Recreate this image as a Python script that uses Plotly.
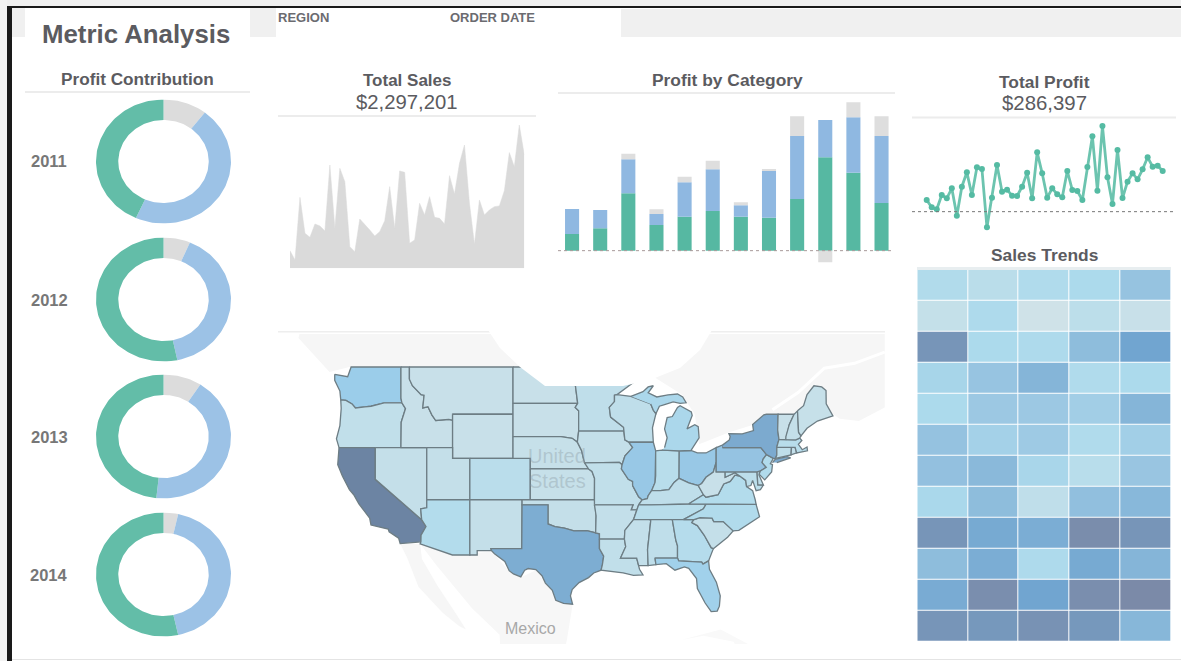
import math
import numpy as np
import plotly.graph_objects as go
from plotly.colors import sample_colorscale

W, H = 1181, 661

# ---------- data ----------
years = ["2011", "2012", "2013", "2014"]
segments = ["Furniture", "Office Supplies", "Technology"]
share_2011 = [10.5, 46.2, 43.3]
share_2012 = [6.4, 40.3, 53.3]
share_2013 = [9.2, 42.5, 48.3]
share_2014 = [3.5, 43.0, 53.5]

sales_months = list(range(48))
monthly_sales = [14800, 7000, 59600, 29400, 26000, 37200, 35600, 31400, 86800, 33600, 84000, 72800,
                 18200, 14000, 41400, 37200, 32200, 27200, 30800, 40000, 68600, 33600, 81800, 80600,
                 21000, 23800, 54600, 44800, 60200, 42800, 42000, 37200, 77800, 62400, 88200, 103600,
                 54600, 20200, 57400, 44800, 49000, 51800, 52400, 65200, 97200, 85400, 120400, 95200]
monthly_profit = [2310, 858, 462, 3300, 2640, 4620, -792, 4950, 7788, 3300, 8778, 8448,
                  -3102, 2772, 9240, 3960, 4356, 3168, 3102, 4950, 7722, 2640, 11748, 7590,
                  2772, 4620, 3432, 2838, 8052, 4290, 4092, 2310, 8844, 14916, 4158, 16962,
                  6798, 1518, 12210, 2706, 5940, 7590, 6402, 8382, 10758, 8910, 9108, 8052]

bar_cats = list(range(12))
profit_green = [5000, 6700, 17200, 7700, 10200, 11900, 10200, 9900, 15500, 28000, 23400, 14300]
profit_blue = [7500, 5500, 10200, 3300, 10300, 12500, 3400, 14200, 18900, 11200, 16600, 20100]
profit_gray = [0, 0, 1700, 1400, 1700, 2600, 900, 400, 5900, -3500, 4500, 5900]

trend_z = [
    [.17, .12, .18, .20, .45],
    [.06, .19, .00, .11, .04],
    [.92, .20, .19, .52, .80],
    [.26, .44, .60, .18, .20],
    [.20, .40, .40, .33, .60],
    [.46, .30, .38, .18, .32],
    [.48, .56, .24, .13, .43],
    [.22, .52, .09, .50, .57],
    [.92, .74, .70, .98, .92],
    [.52, .70, .19, .74, .60],
    [.72, .97, .80, .97, 1.0],
    [.92, .90, .94, .90, .58],
]

state_sales = {
    "WA": .30, "OR": .07, "CA": 1.0, "NV": .05, "ID": .03, "MT": .03, "WY": .03, "UT": .05, "CO": .11,
    "AZ": .15, "NM": .05, "ND": .03, "SD": .03, "NE": .04, "KS": .04, "OK": .05, "TX": .72, "MN": .08,
    "IA": .05, "MO": .07, "AR": .06, "LA": .07, "WI": .08, "IL": .36, "IN": .12, "OH": .36, "MI": .20,
    "KY": .08, "TN": .12, "MS": .06, "AL": .08, "GA": .14, "FL": .26, "SC": .05, "NC": .16, "VA": .15,
    "WV": .03, "MD": .10, "DE": .08, "PA": .42, "NJ": .16, "NY": .74, "CT": .08, "RI": .06, "MA": .12,
    "VT": .03, "NH": .05, "ME": .04,
}

state_outlines = {
    "WA": [(-124.7,48.4),(-123.2,48.2),(-122.8,49),(-117.03,49),(-117.03,46.4),(-116.92,46),(-118.98,46),(-119.3,45.93),(-120.5,45.7),(-121.2,45.65),(-122.3,45.55),(-122.7,45.9),(-123.4,46.2),(-124,46.25),(-124.1,47),(-124.7,47.9)],
    "OR": [(-124,46.25),(-123.4,46.2),(-122.7,45.9),(-122.3,45.55),(-121.2,45.65),(-120.5,45.7),(-119.3,45.93),(-118.98,46),(-116.92,46),(-116.5,45.5),(-117,44.3),(-117.03,42),(-124.2,42),(-124.5,42.8),(-124.1,44),(-123.95,45.5)],
    "CA": [(-124.2,42),(-120,42),(-120,39),(-114.63,35),(-114.13,34.3),(-114.7,33.4),(-114.72,32.72),(-117.12,32.53),(-117.3,33.1),(-118.4,33.75),(-118.5,34.03),(-120.5,34.45),(-120.65,35.15),(-121.9,36.6),(-122.5,37.5),(-123,38),(-123.8,39.3),(-124.35,40.4)],
    "NV": [(-120,42),(-114.04,42),(-114.04,36.2),(-114.74,36.1),(-114.63,35),(-120,39)],
    "ID": [(-117.03,49),(-116.05,49),(-116.05,48),(-115.7,47.45),(-114.7,46.7),(-114.35,46.65),(-114.5,45.55),(-113.9,45.65),(-113.45,44.95),(-113,44.45),(-111.5,44.55),(-111.05,44.48),(-111.05,42),(-117.03,42),(-117,44.3),(-116.5,45.5),(-116.92,46),(-117.03,46.4)],
    "MT": [(-116.05,49),(-104.05,49),(-104.05,45),(-111.05,45),(-111.05,44.48),(-111.5,44.55),(-113,44.45),(-113.45,44.95),(-113.9,45.65),(-114.5,45.55),(-114.35,46.65),(-114.7,46.7),(-115.7,47.45),(-116.05,48)],
    "WY": [(-111.05,45),(-104.05,45),(-104.05,41),(-111.05,41)],
    "UT": [(-114.04,42),(-111.05,42),(-111.05,41),(-109.05,41),(-109.05,37),(-114.04,37)],
    "CO": [(-109.05,41),(-102.05,41),(-102.05,37),(-109.05,37)],
    "AZ": [(-114.04,37),(-109.05,37),(-109.05,31.33),(-111.07,31.33),(-114.81,32.5),(-114.72,32.72),(-114.7,33.4),(-114.13,34.3),(-114.63,35),(-114.74,36.1),(-114.04,36.2)],
    "NM": [(-109.05,37),(-103,37),(-103.04,32),(-106.62,32),(-106.53,31.78),(-108.2,31.78),(-108.2,31.33),(-109.05,31.33)],
    "ND": [(-104.05,49),(-97.23,49),(-96.85,47.6),(-96.56,45.94),(-104.05,45.94)],
    "SD": [(-104.05,45.94),(-96.56,45.94),(-96.85,45.6),(-96.45,45.3),(-96.45,43.5),(-96.6,42.5),(-97.2,42.85),(-98.5,43),(-104.05,43)],
    "NE": [(-104.05,43),(-98.5,43),(-97.2,42.85),(-96.6,42.5),(-96.1,41.7),(-95.9,41),(-95.31,40),(-102.05,40),(-102.05,41),(-104.05,41)],
    "KS": [(-102.05,40),(-95.31,40),(-94.9,39.75),(-94.61,39.1),(-94.62,37),(-102.05,37)],
    "OK": [(-103,37),(-94.62,37),(-94.43,35.4),(-94.48,33.64),(-95.5,33.88),(-97,33.85),(-98.1,34.13),(-99.2,34.3),(-100,34.56),(-100,36.5),(-103,36.5)],
    "TX": [(-106.62,32),(-103.04,32),(-103,36.5),(-100,36.5),(-100,34.56),(-99.2,34.3),(-98.1,34.13),(-97,33.85),(-95.5,33.88),(-94.48,33.64),(-94.04,33.55),(-94.04,32),(-93.55,31.2),(-93.7,30.3),(-93.85,29.7),(-94.7,29.4),(-95.3,28.9),(-96.4,28.35),(-97.2,27.6),(-97.4,26.9),(-97.15,25.96),(-98.2,26.05),(-99.1,26.4),(-99.5,27.5),(-100.3,28.3),(-100.7,29.1),(-101.4,29.77),(-102.3,29.88),(-102.7,29.7),(-103.15,28.98),(-104,29.3),(-104.5,29.65),(-105,30.65),(-106.2,31.47),(-106.53,31.78)],
    "MN": [(-97.23,49),(-95.15,49),(-95.15,49.38),(-94.8,49.3),(-94.6,48.7),(-93,48.6),(-91.4,48.05),(-89.6,48),(-92,46.7),(-92.3,46.65),(-92.3,46.1),(-92.9,45.6),(-92.75,44.75),(-91.25,43.85),(-91.22,43.5),(-96.45,43.5),(-96.45,45.3),(-96.85,45.6),(-96.56,45.94),(-96.85,47.6)],
    "IA": [(-96.45,43.5),(-91.22,43.5),(-91.1,42.7),(-90.64,42.5),(-90.2,42),(-91.1,41.2),(-91.42,40.4),(-91.73,40.61),(-95.77,40.58),(-95.9,41),(-96.1,41.7),(-96.6,42.5)],
    "MO": [(-95.77,40.58),(-91.73,40.61),(-91.42,40.4),(-91.5,40),(-90.7,39),(-90.2,38.8),(-90.2,38.4),(-89.5,37.3),(-89.1,37),(-89.5,36.5),(-89.7,36),(-90.37,36),(-90.15,36.5),(-94.62,36.5),(-94.62,37),(-94.61,39.1),(-94.9,39.75),(-95.31,40)],
    "AR": [(-94.62,36.5),(-90.15,36.5),(-90.37,36),(-89.7,36),(-90.1,35),(-91.1,33.9),(-91.15,33),(-94.04,33),(-94.04,33.55),(-94.48,33.64),(-94.43,35.4)],
    "LA": [(-94.04,33),(-91.15,33),(-91,32.2),(-91.6,31),(-89.73,31),(-89.5,30.2),(-89.4,29.8),(-89,29.2),(-90.1,29.15),(-91.3,29.4),(-92.3,29.55),(-93.85,29.7),(-93.7,30.3),(-93.55,31.2),(-94.04,32)],
    "WI": [(-92,46.7),(-90.4,46.55),(-88.1,45.9),(-87.8,45.35),(-87.5,45.05),(-87.9,43.8),(-87.8,42.49),(-90.64,42.5),(-91.1,42.7),(-91.22,43.5),(-91.25,43.85),(-92.75,44.75),(-92.9,45.6),(-92.3,46.1),(-92.3,46.65)],
    "IL": [(-90.64,42.5),(-87.8,42.49),(-87.53,41.7),(-87.53,39.35),(-87.6,38.7),(-88,37.9),(-88.4,37.4),(-88.5,37.1),(-89.1,37),(-89.5,37.3),(-90.2,38.4),(-90.2,38.8),(-90.7,39),(-91.5,40),(-91.42,40.4),(-91.1,41.2),(-90.2,42)],
    "IN": [(-87.53,41.7),(-86.8,41.76),(-84.8,41.7),(-84.82,39.1),(-85.4,38.7),(-86,38),(-87,37.9),(-88,37.9),(-87.6,38.7),(-87.53,39.35)],
    "OH": [(-84.8,41.7),(-83.45,41.73),(-82.7,41.5),(-81.7,41.5),(-80.52,42),(-80.52,40.64),(-80.85,39.7),(-81.7,39.2),(-82.2,38.6),(-82.6,38.4),(-83.7,38.65),(-84.82,39.1)],
    "MI": [(-86.8,41.76),(-84.8,41.7),(-83.45,41.73),(-83.1,42.2),(-82.5,42.9),(-82.6,43.9),(-83,44.07),(-83.9,43.7),(-83.3,44.9),(-83.4,45.2),(-84.7,45.75),(-85,45.6),(-85.6,44.8),(-86.2,44.7),(-86.5,43.7),(-86.2,42.9),(-86.5,42),None,
           (-90.4,46.55),(-89,46.95),(-88.4,47.35),(-87.8,47.45),(-88.4,46.85),(-87.4,46.5),(-86.1,46.67),(-85,46.75),(-84.4,46.5),(-84,46),(-84.7,45.95),(-85.5,46.08),(-86.5,45.85),(-87.1,45.7),(-87.5,45.05),(-87.8,45.35),(-88.1,45.9)],
    "KY": [(-89.1,37),(-88.5,37.1),(-88.4,37.4),(-88,37.9),(-87,37.9),(-86,38),(-85.4,38.7),(-84.82,39.1),(-83.7,38.65),(-82.6,38.4),(-82,37.5),(-83.68,36.6),(-88.05,36.5),(-89.5,36.5)],
    "TN": [(-90.1,35),(-89.7,36),(-89.5,36.5),(-88.05,36.5),(-83.68,36.6),(-81.68,36.59),(-82,36.1),(-84.32,35),(-85.6,35),(-88.2,35)],
    "MS": [(-91.15,33),(-91.1,33.9),(-90.1,35),(-88.2,35),(-88.1,34.9),(-88.47,31.9),(-88.4,30.2),(-89.5,30.2),(-89.73,31),(-91.6,31),(-91,32.2)],
    "AL": [(-88.2,35),(-85.6,35),(-85.2,32.9),(-85,32.3),(-85,31),(-87.6,31),(-87.5,30.3),(-88.4,30.2),(-88.47,31.9),(-88.1,34.9)],
    "GA": [(-85.6,35),(-83.1,35),(-83.35,34.7),(-82.7,34.4),(-81.9,33.4),(-81.1,32.1),(-80.85,32),(-81.4,30.7),(-82.05,30.35),(-82.2,30.57),(-84.86,30.7),(-85,31),(-85,32.3),(-85.2,32.9)],
    "FL": [(-87.6,31),(-85,31),(-84.86,30.7),(-82.2,30.57),(-82.05,30.35),(-81.4,30.7),(-81.3,29.8),(-80.5,28.4),(-80.05,26.9),(-80.15,25.75),(-80.4,25.2),(-81.1,25.13),(-81.8,26.1),(-82.7,27.7),(-82.8,28.8),(-83.7,29.9),(-84.2,30.05),(-85.3,29.7),(-86.3,30.4),(-87.5,30.3)],
    "SC": [(-83.35,34.7),(-83.1,35),(-82.4,35.2),(-81,35.15),(-80.8,34.8),(-79.7,34.8),(-78.55,33.85),(-79.2,33.2),(-80.85,32),(-81.1,32.1),(-81.9,33.4),(-82.7,34.4)],
    "NC": [(-84.32,35),(-82,36.1),(-81.68,36.59),(-75.9,36.55),(-75.5,35.3),(-76.5,34.7),(-77.9,33.9),(-78.55,33.85),(-79.7,34.8),(-80.8,34.8),(-81,35.15),(-82.4,35.2),(-83.1,35)],
    "VA": [(-83.68,36.6),(-81.68,36.59),(-75.9,36.55),(-76,37),(-76.3,37.9),(-77,38.3),(-77.1,38.9),(-77.75,39.3),(-78.35,39.4),(-78.9,38.8),(-79.65,38.55),(-80.3,37.5),(-81.7,37.25),(-82,37.5)],
    "WV": [(-82.6,38.4),(-82.2,38.6),(-81.7,39.2),(-80.85,39.7),(-80.52,40.64),(-80.52,39.72),(-79.48,39.72),(-79.48,39.2),(-78.35,39.63),(-77.75,39.3),(-78.35,39.4),(-78.9,38.8),(-79.65,38.55),(-80.3,37.5),(-81.7,37.25),(-82,37.5)],
    "MD": [(-79.48,39.72),(-75.79,39.72),(-75.7,38.46),(-75.05,38.45),(-75.4,38),(-75.9,37.9),(-76.3,38.9),(-76.5,38.4),(-77,38.3),(-77.1,38.9),(-77.75,39.3),(-78.35,39.63),(-79.48,39.2)],
    "DE": [(-75.79,39.72),(-75.4,39.8),(-75.55,39.4),(-75.05,38.45),(-75.7,38.46)],
    "PA": [(-80.52,42),(-79.76,42.25),(-79.76,42),(-75.35,42),(-74.7,41.35),(-75.1,40.9),(-75.2,40.6),(-74.72,40.15),(-75.4,39.8),(-75.79,39.72),(-80.52,39.72)],
    "NJ": [(-74.7,41.35),(-73.9,41),(-74.25,40.5),(-74,40.4),(-74.1,39.7),(-74.9,38.95),(-75.55,39.5),(-75.4,39.8),(-74.72,40.15),(-75.2,40.6),(-75.1,40.9)],
    "NY": [(-79.76,42.25),(-79,42.7),(-78.9,43),(-79.05,43.27),(-77.5,43.25),(-76.2,43.55),(-76.3,44.1),(-75,44.95),(-74.7,45),(-73.35,45),(-73.4,43.6),(-73.25,42.75),(-73.5,42.05),(-73.5,41.3),(-73.65,41),(-73.9,41),(-74.7,41.35),(-75.35,42),(-79.76,42),None,
           (-74,40.6),(-73.7,40.9),(-72.3,41.15),(-71.9,41.05),(-73.5,40.6)],
    "CT": [(-73.5,42.05),(-71.8,42.02),(-71.85,41.32),(-73.65,41),(-73.5,41.3)],
    "RI": [(-71.8,42.02),(-71.38,42.02),(-71.2,41.5),(-71.85,41.32)],
    "MA": [(-73.5,42.05),(-73.25,42.75),(-71.3,42.7),(-70.85,42.87),(-70.6,42.65),(-71,42.3),(-70.55,41.8),(-70,42.05),(-69.95,41.7),(-71.2,41.5),(-71.38,42.02),(-71.8,42.02)],
    "VT": [(-73.25,42.75),(-73.4,43.6),(-73.35,45),(-71.5,45),(-72.05,44.1),(-72.45,43),(-72.46,42.73)],
    "NH": [(-72.46,42.73),(-72.45,43),(-72.05,44.1),(-71.5,45),(-71.1,45.3),(-70.98,43.4),(-70.7,43.07),(-70.85,42.87),(-71.3,42.7)],
    "ME": [(-71.1,45.3),(-70.4,45.75),(-70,46.7),(-69.2,47.45),(-68.3,47.35),(-67.8,47.05),(-67.78,45.9),(-67,44.85),(-68.8,44.4),(-70,43.75),(-70.7,43.07),(-70.98,43.4)],
}

land_canada = [(-128.3,52.8),(-61,52.8),(-61,45.6),(-64,44.4),(-66.2,44.6),(-67,45),(-69,47.6),(-71,45),(-74.7,45),(-76.5,44),(-79,43.4),(-82.5,42.3),(-83,45),(-84.5,46.7),(-88,48.3),(-95,49),(-123,49),(-125.3,48.6),(-128.9,51.3)]
land_mexico = [(-114.8,32.5),(-111,31.3),(-106.5,31.7),(-104.5,29.6),(-103,29),(-101.4,29.7),(-99.5,27.5),(-97.15,25.9),(-97.8,22),(-98,21),(-105.5,20),(-105.6,22.5),(-108.8,25.5),(-110.9,27.9),(-112.9,30.2)]
land_baja = [(-117.1,32.5),(-114.8,32.5),(-114.6,30.9),(-112.8,28),(-110.6,24.8),(-109.5,23.1),(-110.3,23.5),(-112.2,25),(-115,27.9),(-116.3,31)]
land_cuba = [(-84.6,21.9),(-80,23.1),(-76,21),(-74.2,20.2),(-77.6,19.8),(-78.5,21.7),(-82,22.4)]
st_lawrence = [(-74,45.4),(-71,46.9),(-68,48.9),(-64.5,49.3),(-61,50.2)]

# ---------- helpers ----------
def dx(a, b):
    return [a / W, b / W]

def dy(top, bottom):
    return [1 - bottom / H, 1 - top / H]

def merc(lat):
    return math.degrees(math.log(math.tan(math.pi / 4 + math.radians(lat) / 2)))

def split(points):
    xs, ys = [], []
    for p in points:
        if p is None:
            xs.append(None); ys.append(None)
        else:
            xs.append(p[0]); ys.append(merc(p[1]))
    return xs, ys

def ring_slice(start, end, inner=0.67):
    """Outline of one donut slice between two cumulative shares (percent), clockwise from 12 o'clock."""
    t = np.radians(np.linspace(start, end, max(3, int(end - start) * 2)) * 3.6)
    xs = np.concatenate([np.sin(t), inner * np.sin(t[::-1])])
    ys = np.concatenate([np.cos(t), inner * np.cos(t[::-1])])
    return list(xs) + [xs[0]], list(ys) + [ys[0]]

TXT = "#5b5b60"
GREEN, BLUE, GRAY = "#63bda8", "#9cc2e6", "#dcdcdc"
HEAT = [[0, "#cfe2e8"], [.2, "#acdaec"], [.4, "#9cc8e3"], [.6, "#85b5d8"], [.8, "#71a5d0"], [1, "#7b8aa8"]]
STATE_SCALE = [[0, "#cde1e8"], [.15, "#b3dcec"], [.3, "#9bcdea"], [.45, "#93c0e0"], [.72, "#7dadd2"], [1, "#6c84a3"]]

fig = go.Figure()

# Donuts (slightly wider than tall, as in the reference)
centers = [161.5, 299.5, 436.5, 574.5]
donut_axes = {}
for n, (yr, vals, cy) in enumerate(zip(years, [share_2011, share_2012, share_2013, share_2014], centers)):
    ax = 6 + n
    donut_axes[f"xaxis{ax}"] = dict(visible=False, fixedrange=True, domain=dx(96, 231), range=[-1, 1])
    donut_axes[f"yaxis{ax}"] = dict(visible=False, fixedrange=True, domain=dy(cy - 62, cy + 62), range=[-1, 1])
    cum = 0
    for seg, v, col in zip(segments, vals, [GRAY, BLUE, GREEN]):
        xs, ys = ring_slice(cum, cum + v)
        cum += v
        fig.add_trace(go.Scatter(x=xs, y=ys, mode="lines", fill="toself", fillcolor=col,
                                 line=dict(width=0, color=col), hoveron="fills",
                                 name=f"{yr} {seg}: {v}%", showlegend=False,
                                 xaxis=f"x{ax}", yaxis=f"y{ax}"))

# Area
fig.add_trace(go.Scatter(x=sales_months, y=monthly_sales, mode="lines", fill="tozeroy",
                         line=dict(color="#dadada", width=0.5), fillcolor="#dadada",
                         xaxis="x", yaxis="y", showlegend=False, name="Sales"))
# Bars
for vals, col, nm in [(profit_green, "#56b8a2", "Technology"), (profit_blue, "#8fb8e1", "Office Supplies"), (profit_gray, "#dedede", "Furniture")]:
    fig.add_trace(go.Bar(x=bar_cats, y=vals, marker=dict(color=col, line=dict(width=0)), width=0.5,
                         xaxis="x2", yaxis="y2", showlegend=False, name=nm))
# Line
fig.add_trace(go.Scatter(x=sales_months, y=monthly_profit, mode="lines+markers",
                         line=dict(color="#6cc4af", width=2.8), marker=dict(color="#55bba3", size=6),
                         cliponaxis=False, xaxis="x3", yaxis="y3", showlegend=False, name="Profit"))
# Heatmap
fig.add_trace(go.Heatmap(z=trend_z, colorscale=HEAT, zmin=0, zmax=1, showscale=False, xgap=1, ygap=1,
                         xaxis="x4", yaxis="y4"))

# Map
for pts, col in [(land_canada, "#f6f6f6"), (land_mexico, "#f7f7f7"), (land_baja, "#f6f6f6"), (land_cuba, "#f9f9f9")]:
    xs, ys = split(pts)
    fig.add_trace(go.Scatter(x=xs + xs[:1], y=ys + ys[:1], mode="lines", fill="toself", fillcolor=col,
                             line=dict(width=0, color=col), hoverinfo="skip", showlegend=False,
                             xaxis="x5", yaxis="y5"))
xs, ys = split(st_lawrence)
fig.add_trace(go.Scatter(x=xs, y=ys, mode="lines", line=dict(color="white", width=3), hoverinfo="skip",
                         showlegend=False, xaxis="x5", yaxis="y5"))
for st, outline in state_outlines.items():
    xs, ys = split(outline + [outline[0]] if None not in outline else outline)
    col = sample_colorscale(STATE_SCALE, [state_sales[st]])[0]
    fig.add_trace(go.Scatter(x=xs, y=ys, mode="lines", fill="toself", fillcolor=col,
                             line=dict(color="#6d7d84", width=1.3), name=st, showlegend=False,
                             hoveron="fills", xaxis="x5", yaxis="y5"))

def ann(text, x, y, size, bold=False, color=TXT, anchor="center"):
    return dict(text=f"<b>{text}</b>" if bold else text, x=x / W, y=1 - y / H, xref="paper", yref="paper",
                showarrow=False, xanchor=anchor, yanchor="middle",
                font=dict(family="Liberation Sans, Arial, sans-serif", size=size, color=color))

annotations = [
    ann("Metric Analysis", 136, 33.5, 25.8, True),
    ann("Profit Contribution", 137, 79, 17.2, True),
    ann("REGION", 276, 17, 13, True, "#6b6b70", "left"),
    ann("ORDER DATE", 448, 17, 13, True, "#6b6b70", "left"),
    ann("Total Sales", 407, 81, 17, True),
    ann("$2,297,201", 407, 102, 20.3),
    ann("Profit by Category", 727, 80, 17.4, True),
    ann("Total Profit", 1044, 82, 17.4, True),
    ann("$286,397", 1044, 103, 20.4),
    ann("Sales Trends", 1044, 255, 17.4, True),
    ann("United", 557, 456, 20, False, "rgba(140,155,165,0.4)"),
    ann("States", 557, 481, 20, False, "rgba(140,155,165,0.4)"),
    ann("Mexico", 530, 628, 16, False, "#a8a8a8"),
]
for yr, cy in zip(years, centers):
    annotations.append(ann(yr, 49, cy, 16.5, True, "#777777"))

def rect(x0, y0, x1, y1, col, layer="above"):
    return dict(type="rect", xref="paper", yref="paper", x0=x0 / W, x1=x1 / W, y0=1 - y0 / H, y1=1 - y1 / H,
                fillcolor=col, line=dict(width=0), layer=layer)

shapes = [
    rect(0, 0, W, 6, "#f0f0f0"),
    rect(0, 0, 7, H, "#f3f3f3"),
    rect(7, 6, W, 8, "#1a1a1a"),
    rect(7, 6, 12, H, "#1a1a1a"),
    rect(12, 8, 25, 37, "#f0f0f0"),
    rect(250, 8, 276, 37, "#f0f0f0"),
    rect(621, 9, W, 37, "#f0f0f0"),
    rect(25, 91, 250, 93, "#ececec"),
    rect(278, 115, 536, 117, "#ececec"),
    rect(558, 92, 895, 94, "#ececec"),
    rect(912, 116.5, 1176, 118.5, "#ececec"),
    rect(278, 331, 885, 332.5, "#eeeeee"),
    rect(12, 659, W, 660, "#e4e4e4"),
    rect(917, 267, 1171, 270, "#e8eef0"),
    dict(type="line", xref="paper", yref="y2", x0=558 / W, x1=893 / W, y0=0, y1=0,
         line=dict(color="#a89a9a", width=1, dash="dot")),
    dict(type="line", xref="paper", yref="y3", x0=912 / W, x1=1176 / W, y0=0, y1=0,
         line=dict(color="#777777", width=1, dash="dot")),
]
# white patch laid over the map's top edge
blob = [(488, 330), (500, 348), (520, 367), (545, 386), (623, 386), (650, 380), (680, 368), (700, 350), (712, 330)]
path = "M " + " L ".join(f"{x / W:.5f} {1 - y / H:.5f}" for x, y in blob) + " Z"
shapes.append(dict(type="path", xref="paper", yref="paper", path=path, fillcolor="white", line=dict(width=0), layer="above"))

def hidden(**kw):
    return dict(visible=False, fixedrange=True, **kw)

fig.update_layout(
    width=W, height=H, autosize=False,
    margin=dict(l=0, r=0, t=0, b=0), paper_bgcolor="white", plot_bgcolor="rgba(0,0,0,0)",
    barmode="relative", hovermode="closest", showlegend=False,
    annotations=annotations, shapes=shapes,
    xaxis=hidden(domain=dx(290, 524.3), range=[0, 47]),
    yaxis=hidden(domain=dy(120, 268.3), range=[0, 124600]),
    xaxis2=hidden(domain=dx(558, 895.6), range=[-0.5, 11.5]),
    yaxis2=hidden(domain=dy(100, 265), range=[-4300, 45200]),
    xaxis3=hidden(domain=dx(926.7, 1162.7), range=[0, 47]),
    yaxis3=hidden(domain=dy(120, 235), range=[-4620, 18150]),
    xaxis4=hidden(domain=dx(917.3, 1171), range=[-0.5, 4.5]),
    yaxis4=hidden(domain=dy(269.7, 641.7), range=[11.5, -0.5]),
    xaxis5=hidden(domain=dx(295, 885), range=[-129.3, -60.97]),
    yaxis5=hidden(domain=dy(334, 644), range=[21.96, 60.47]),
    **donut_axes,
)

fig.write_html("out.html", config=dict(displayModeBar=False),
               post_script="document.body.style.margin='0';document.body.style.overflow='hidden';")
